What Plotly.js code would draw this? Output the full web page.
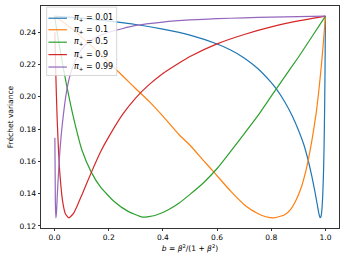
<!DOCTYPE html>
<html>
<head>
<meta charset="utf-8">
<script src="https://cdn.plot.ly/plotly-3.0.1.min.js"></script>
<style>html,body{margin:0;padding:0;background:#fff;}#chart{width:346px;height:262px;}</style>
</head>
<body>
<div id="chart"></div>
<script>
// π+ = 0.01
const b_001 = [0, 0.1, 0.2, 0.3, 0.4, 0.5, 0.6, 0.65, 0.7, 0.75, 0.8, 0.82, 0.85, 0.878, 0.9, 0.92, 0.935, 0.95, 0.962, 0.97, 0.976, 0.98, 0.983, 0.986, 0.99, 0.993, 0.995, 0.997, 0.998, 0.999, 1.0];
const v_001 = [0.25, 0.2487, 0.2469, 0.2448, 0.2419, 0.2382, 0.2327, 0.2290, 0.2241, 0.2175, 0.2088, 0.2046, 0.1968, 0.1880, 0.1795, 0.1705, 0.1615, 0.1505, 0.1405, 0.1330, 0.1275, 0.1252, 0.1256, 0.1285, 0.1390, 0.1541, 0.1700, 0.1935, 0.2090, 0.2275, 0.25];
// π+ = 0.1
const b_01 = [0, 0.05, 0.1, 0.15, 0.2, 0.25, 0.3, 0.35, 0.4, 0.46, 0.5, 0.55, 0.589, 0.65, 0.706, 0.75, 0.78, 0.81, 0.85, 0.87, 0.89, 0.91, 0.93, 0.95, 0.965, 0.975, 0.985, 0.993, 1.0];
const v_01 = [0.25, 0.2440, 0.2370, 0.2295, 0.2215, 0.2132, 0.2050, 0.1970, 0.1880, 0.1765, 0.1700, 0.1605, 0.1532, 0.1416, 0.1324, 0.1277, 0.1257, 0.1250, 0.1270, 0.1300, 0.1355, 0.1435, 0.1558, 0.1730, 0.1890, 0.2030, 0.2195, 0.2350, 0.25];
// π+ = 0.5
const b_05 = [0, 0.01, 0.02, 0.03, 0.045, 0.06, 0.075, 0.1, 0.135, 0.17, 0.22, 0.27, 0.325, 0.37, 0.42, 0.46, 0.5, 0.55, 0.6, 0.65, 0.7, 0.75, 0.8, 0.85, 0.9, 0.95, 1.0];
const v_05 = [0.25, 0.2395, 0.2295, 0.2200, 0.2068, 0.1945, 0.1835, 0.1675, 0.1535, 0.1440, 0.1352, 0.1292, 0.1255, 0.1265, 0.1300, 0.1342, 0.1396, 0.1468, 0.1556, 0.1662, 0.1771, 0.1882, 0.2004, 0.2125, 0.2245, 0.2372, 0.25];
// π+ = 0.9
const b_09 = [0.0012, 0.004, 0.007, 0.01, 0.015, 0.02, 0.03, 0.04, 0.0527, 0.07, 0.085, 0.1, 0.135, 0.17, 0.2, 0.25, 0.3, 0.35, 0.4, 0.46, 0.5, 0.6, 0.7, 0.8, 0.9, 1.0];
const v_09 = [0.2400, 0.2186, 0.2000, 0.1849, 0.1656, 0.1518, 0.1351, 0.1276, 0.1250, 0.1278, 0.1330, 0.1389, 0.1529, 0.1660, 0.1752, 0.1888, 0.1994, 0.2077, 0.2145, 0.2210, 0.2250, 0.2328, 0.2386, 0.2433, 0.2470, 0.25];
// π+ = 0.99
const b_099 = [0.0012, 0.003, 0.005, 0.007, 0.01, 0.015, 0.02, 0.03, 0.045, 0.06, 0.08, 0.11, 0.15, 0.2, 0.3, 0.4, 0.5, 0.6, 0.7, 0.8, 0.9, 1.0];
const v_099 = [0.1747, 0.1350, 0.1250, 0.1280, 0.1385, 0.1540, 0.1670, 0.1850, 0.2040, 0.2150, 0.2235, 0.2315, 0.2365, 0.2400, 0.2442, 0.2463, 0.2476, 0.2484, 0.2489, 0.2494, 0.2497, 0.25];

const labels = ["0.01", "0.1", "0.5", "0.9", "0.99"];
const colors = ["#1f77b4", "#ff7f0e", "#2ca02c", "#d62728", "#9467bd"];
const xs = [b_001, b_01, b_05, b_09, b_099];
const ys = [v_001, v_01, v_05, v_09, v_099];

const font = {family: "DejaVu Sans, sans-serif", size: 7.5, color: "#000"};
const traces = xs.map((x, i) => ({
  x: x, y: ys[i], type: "scatter", mode: "lines",
  name: "<i>π</i><sub>+</sub> = " + labels[i],
  line: {color: colors[i], width: 1.2, shape: "spline", smoothing: 0.5},
  showlegend: false
}));

// Legend drawn in paper coordinates (matplotlib-style compact legend)
const legX0 = 0.019, legX1 = 0.254, legY0 = 0.687, legY1 = 0.995;
const entryY = [0.945, 0.893, 0.837, 0.781, 0.725];
const shapes = [{
  type: "rect", xref: "paper", yref: "paper", x0: legX0, x1: legX1, y0: legY0, y1: legY1,
  fillcolor: "rgba(255,255,255,0.8)", line: {color: "#cccccc", width: 0.8}, layer: "above"
}];
const annotations = [];
labels.forEach((lab, i) => {
  shapes.push({type: "line", xref: "paper", yref: "paper", x0: 0.025, x1: 0.087,
    y0: entryY[i], y1: entryY[i], line: {color: colors[i], width: 1.2}, layer: "above"});
  annotations.push({xref: "paper", yref: "paper", x: 0.105, y: entryY[i],
    xanchor: "left", yanchor: "middle", showarrow: false,
    text: "<i>π</i><sub>+</sub> = " + lab, font: {family: font.family, size: 8, color: "#000"}});
});

const axisCommon = {
  showline: true, mirror: true, linecolor: "#000", linewidth: 0.8,
  ticks: "outside", ticklen: 2.6, tickwidth: 0.8, tickcolor: "#000",
  showgrid: false, zeroline: false, tickfont: font
};

const layout = {
  width: 346, height: 262,
  margin: {l: 41, r: 6.5, t: 5.5, b: 34.3},
  paper_bgcolor: "#fff", plot_bgcolor: "#fff",
  font: font,
  showlegend: false,
  shapes: shapes,
  annotations: annotations,
  xaxis: Object.assign({}, axisCommon, {
    range: [-0.05, 1.05], tickvals: [0, 0.2, 0.4, 0.6, 0.8, 1.0], tickformat: ".1f",
    title: {text: "<i>b</i> = <i>β</i><sup>2</sup>/(1 + <i>β</i><sup>2</sup>)", font: font, standoff: 4}
  }),
  yaxis: Object.assign({}, axisCommon, {
    range: [0.11875, 0.25625], tickvals: [0.12, 0.14, 0.16, 0.18, 0.20, 0.22, 0.24], tickformat: ".2f",
    title: {text: "Fréchet variance", font: font, standoff: 4}
  })
};

Plotly.newPlot("chart", traces, layout, {displayModeBar: false, staticPlot: true});
</script>
</body>
</html>
